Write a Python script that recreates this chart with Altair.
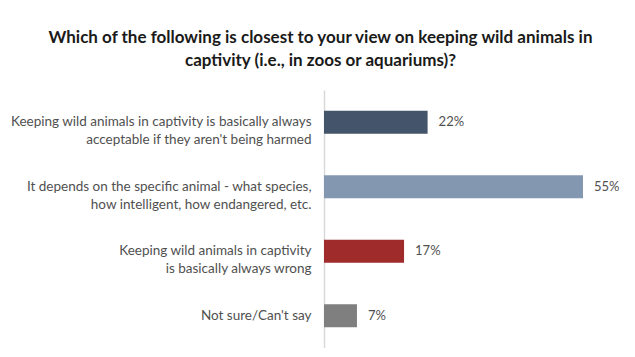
import altair as alt
import pandas as pd

categories = [
    ["Keeping wild animals in captivity is basically always", "acceptable if they aren't being harmed"],
    ["It depends on the specific animal - what species,", "how intelligent, how endangered, etc."],
    ["Keeping wild animals in captivity", "is basically always wrong"],
    ["Not sure/Can't say"],
]
keys = ["a", "b", "c", "d"]
values = [22, 55, 17, 7]
labels = ["22%", "55%", "17%", "7%"]
colors = ["#44546A", "#8497B0", "#A02B2B", "#7F7F7F"]

df = pd.DataFrame({"key": keys, "value": values, "label": labels})


def js_list(lines):
    return "[" + ", ".join("'" + s.replace("'", "\\'") + "'" for s in lines) + "]"


label_expr = "{" + ", ".join(f"'{k}': {js_list(c)}" for k, c in zip(keys, categories)) + "}[datum.value]"

FONT = "Lato"

y_enc = alt.Y(
    "key:N",
    sort=keys,
    title=None,
    scale=alt.Scale(paddingInner=0.64, paddingOuter=0.32),
    axis=alt.Axis(
        labelExpr=label_expr,
        labelFont=FONT,
        labelFontSize=13.5,
        labelColor="#505050",
        labelLineHeight=18,
        labelPadding=13,
        labelLimit=400,
        ticks=False,
        domainColor="#D9D9D9",
        domainWidth=1.5,
    ),
)

x_enc = alt.X("value:Q", scale=alt.Scale(domain=[0, 55], nice=False), axis=None)

bars = alt.Chart(df).mark_bar().encode(
    x=x_enc,
    y=y_enc,
    color=alt.Color("key:N", scale=alt.Scale(domain=keys, range=colors), legend=None),
)

text = alt.Chart(df).mark_text(
    align="left", dx=11, font=FONT, fontSize=13, color="#505050"
).encode(x=x_enc, y=alt.Y("key:N", sort=keys), text="label:N")

chart = (
    alt.layer(bars, text)
    .properties(
        width=259,
        height=258,
        autosize=alt.AutoSizeParams(type="none"),
        padding={"left": 316, "top": 82, "right": 42, "bottom": 0},
        view=alt.ViewBackground(stroke="transparent"),
        title=alt.TitleParams(
            ["Which of the following is closest to your view on keeping wild animals in",
             "captivity (i.e., in zoos or aquariums)?"],
            font=FONT,
            fontSize=17,
            fontWeight="bold",
            color="#1a1a1a",
            lineHeight=23,
            anchor="middle",
            dx=-133,
            offset=20,
        ),
    )
    .configure_view(stroke="transparent")
    .configure(background="white")
)

chart.save("out.html", embed_options={"renderer": "svg", "actions": False})
